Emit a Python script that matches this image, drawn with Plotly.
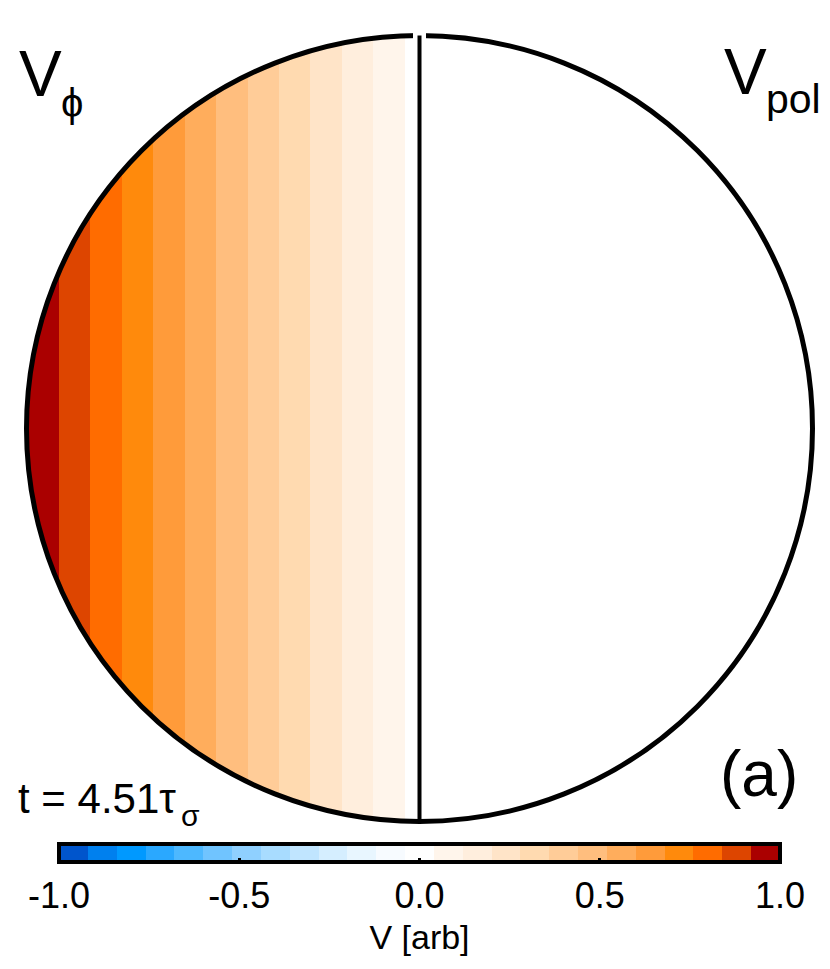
import plotly.graph_objects as go

# toroidal velocity profile across the cross-section (x in units of the minor radius);
# the poloidal half (right) is zero everywhere
x_profile = [-1.0, 0.0, 1.0]
y_profile = [-1.0, 1.0]
v_phi = [1.0, 0.0, 0.0]

# 25 discrete colour levels from -1 to 1
colors_neg = ["#0055cc", "#0080ee", "#0099ff", "#2aa8ff", "#4db8ff", "#70c4ff",
              "#8fd0ff", "#a8dcff", "#c0e5ff", "#d5eeff", "#e8f6ff", "#f7fbff"]
color_zero = "#ffffff"
colors_pos = ["#fff5eb", "#ffeedd", "#ffe4c8", "#ffdab0", "#ffcc98", "#ffbe7e",
              "#ffad5c", "#ff9b3a", "#ff8a0c", "#ff6c00", "#dd4500", "#aa0000"]
tick_vals = [-1.0, -0.5, 0.0, 0.5, 1.0]
tick_text = ["-1.0", "-0.5", "0.0", "0.5", "1.0"]

W, H = 830, 969
OFF = 8  # page body margin, figure sits 8px in from the window corner
FONT = "Liberation Sans, Arial, Helvetica, sans-serif"

level_colors = colors_neg + [color_zero] + colors_pos
n = len(level_colors)
cscale = []
for i, c in enumerate(level_colors):
    cscale.append([i / n, c])
    cscale.append([(i + 1) / n, c])

# circle centre / radius in window pixels
cx, cy, R = 419.5 - OFF, 428.5 - OFF, 393.0


def px(x):
    return (x - OFF) / W


def py(y):
    return 1 - (y - OFF) / H


fig = go.Figure()
fig.add_trace(go.Heatmap(
    x=x_profile, y=y_profile, z=[v_phi, v_phi],
    zsmooth='best', zmin=-1, zmax=1, colorscale=cscale,
    hoverinfo='skip',
    colorbar=dict(
        orientation='h', x=px(419.5), xanchor='center',
        y=py(844), yanchor='top', ypad=0, xpad=0,
        len=721, lenmode='pixels', thickness=18, thicknessmode='pixels',
        outlinewidth=4, outlinecolor='black',
        tickvals=tick_vals, ticktext=tick_text,
        ticks='inside', ticklen=6, tickwidth=3, tickcolor='black',
        tickfont=dict(size=36, color='black', family=FONT),
        title=dict(text='V [arb]', side='bottom',
                   font=dict(size=34, color='black', family=FONT)),
    ),
))

k = 0.5522847
circle_path = ("M 1,0 C 1,{k} {k},1 0,1 C -{k},1 -1,{k} -1,0 "
               "C -1,-{k} -{k},-1 0,-1 C {k},-1 1,-{k} 1,0 Z").format(k=k)
mask_path = "M -3,-3 L 3,-3 L 3,3 L -3,3 Z " + circle_path
gap = 6.5 / R

shapes = [
    dict(type='path', path=mask_path, xref='x', yref='y', fillcolor='white',
         fillrule='evenodd', line=dict(width=0), layer='above'),
    dict(type='circle', x0=-1, y0=-1, x1=1, y1=1, xref='x', yref='y',
         line=dict(color='black', width=5), layer='above'),
    dict(type='line', x0=-gap, y0=1, x1=gap, y1=1, xref='x', yref='y',
         line=dict(color='white', width=9), layer='above'),
    dict(type='line', x0=0, y0=-1, x1=0, y1=1, xref='x', yref='y',
         line=dict(color='black', width=4), layer='above'),
]

annotations = [
    dict(text='V', x=px(17), y=py(73.5), xanchor='left', yanchor='middle', size=64),
    dict(text='\u03d5', x=px(59), y=py(103.5), xanchor='left', yanchor='middle', size=40),
    dict(text='V', x=px(722), y=py(72.5), xanchor='left', yanchor='middle', size=64),
    dict(text='pol', x=px(764), y=py(99), xanchor='left', yanchor='middle', size=41),
    dict(text='t = 4.51\u03c4', x=px(16), y=py(798), xanchor='left', yanchor='middle', size=42),
    dict(text='\u03c3', x=px(179), y=py(815), xanchor='left', yanchor='middle', size=30),
    dict(text='(a)', x=px(759), y=py(773.5), xanchor='center', yanchor='middle', size=64),
]
for a in annotations:
    a.update(xref='paper', yref='paper', showarrow=False)
    a['font'] = dict(size=a.pop('size'), color='black', family=FONT)

fig.update_layout(
    width=W, height=H,
    margin=dict(l=0, r=0, t=0, b=0, autoexpand=False),
    paper_bgcolor='white', plot_bgcolor='white',
    xaxis=dict(range=[-cx / R, (W - cx) / R], visible=False, fixedrange=True),
    yaxis=dict(range=[-(H - cy) / R, cy / R], visible=False, fixedrange=True),
    shapes=shapes, annotations=annotations, showlegend=False,
)

fig.write_html("out.html")
